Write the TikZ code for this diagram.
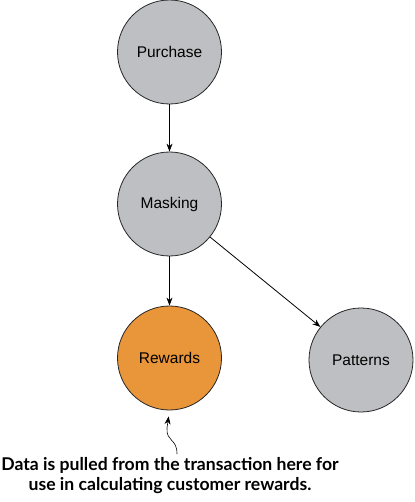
\documentclass[tikz,border=0pt]{standalone}
\usepackage{fontspec}
\setmainfont{Liberation Sans}
\newfontfamily\chuthich{Lato}
\usepackage{xcolor}
\definecolor{xamnhat}{HTML}{BEBFC2}
\definecolor{camnhat}{HTML}{E9953A}
\def\maunen{xamnhat}
\def\mauchon{camnhat}
\usepackage{tikz}
\usetikzlibrary{arrows.meta,calc,positioning}

\begin{document}
\begin{tikzpicture}[x=1pt,y=-1pt,line width=0.8pt,>={Stealth[length=8pt,width=6pt]},font=\fontsize{15.5}{18}\selectfont]
	\useasboundingbox (0,0) rectangle (414,502);
	%%Vẽ các nút tròn
	\foreach \ten/\x/\y/\mau/\chu in {%
		pur/169.5/52/\maunen/Purchase,
		mask/169.5/204/\maunen/Masking,
		rew/169.5/358/\mauchon/Rewards,
		pat/361/360/\maunen/Patterns
	}{%
		\node[circle,draw=black!85,fill=\mau,minimum size=104pt,inner sep=0pt] (\ten) at (\x,\y) {\chu};
	}
	%%%Vẽ các mũi tên
	\draw[->] (pur)--(mask);
	\draw[->] (mask)--(rew);
	\draw[->] (mask)--(pat);
	%%%Chú thích
	\node[anchor=north,align=center,font=\chuthich\bfseries\fontsize{17.6}{20.5}\selectfont,inner sep=0pt] (note) at (170,457)
		{Data is pulled from the transaction here for\\use in calculating customer rewards.};
	\coordinate (duoi) at ($(note.north)+(7,-3)$);
	\draw[->,line width=0.6pt,shorten >=6pt] (duoi) .. controls (177,438) and (166,442) .. (167,428) -- (rew.south);
\end{tikzpicture}
\end{document}
